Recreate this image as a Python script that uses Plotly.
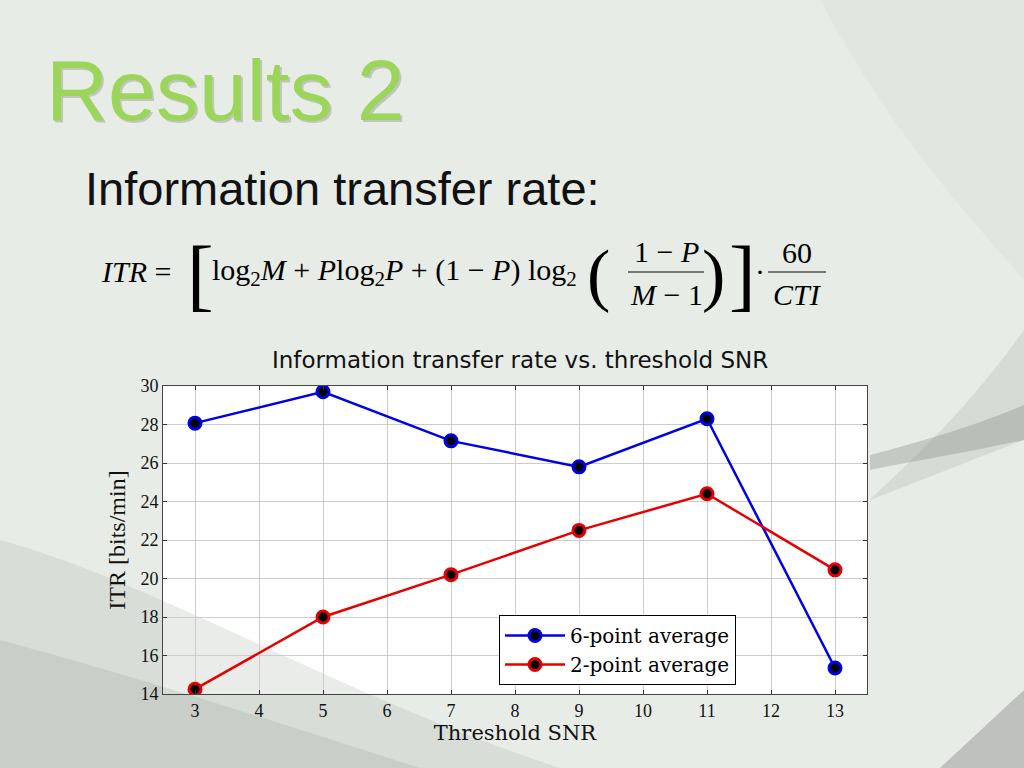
import plotly.graph_objects as go

snr = [3, 5, 7, 9, 11, 13]
itr_6pt = [28.07, 29.7, 27.15, 25.8, 28.3, 15.35]
itr_2pt = [14.25, 18.0, 20.2, 22.5, 24.4, 20.45]
x_ticks = [3, 4, 5, 6, 7, 8, 9, 10, 11, 12, 13]
y_ticks = [14, 16, 18, 20, 22, 24, 26, 28, 30]

SERIF = "Liberation Serif, Times New Roman, serif"
WSERIF = "DejaVu Serif, serif"
SANS = "Liberation Sans, Arial, sans-serif"

fig = go.Figure()
fig.add_trace(go.Scatter(
    x=snr, y=itr_6pt, mode="lines+markers", name="6-point average",
    line=dict(color="#0000e6", width=2.5),
    marker=dict(size=12, color="black", line=dict(color="#0000e6", width=3)),
))
fig.add_trace(go.Scatter(
    x=snr, y=itr_2pt, mode="lines+markers", name="2-point average",
    line=dict(color="#e60000", width=2.5),
    marker=dict(size=12, color="black", line=dict(color="#e60000", width=3)),
))

W, H = 1024, 768
L, R, T, B = 163, 867, 386, 694

def px(x):
    return (x - L) / (R - L)
def py(y):
    return (B - y) / (B - T)

# Background swooshes
shapes = [
    dict(type="path", xref="paper", yref="paper", layer="below",
         path=f"M {px(0)} {py(540)} C {px(150)} {py(580)}, {px(350)} {py(700)}, {px(560)} {py(768)} L {px(0)} {py(768)} Z",
         fillcolor="rgba(160,170,160,0.22)", line=dict(width=0)),
    dict(type="path", xref="paper", yref="paper", layer="below",
         path=f"M {px(0)} {py(640)} C {px(150)} {py(680)}, {px(300)} {py(730)}, {px(420)} {py(768)} L {px(0)} {py(768)} Z",
         fillcolor="rgba(150,155,150,0.22)", line=dict(width=0)),
    dict(type="path", xref="paper", yref="paper", layer="below",
         path=f"M {px(1024)} {py(330)} C {px(960)} {py(420)}, {px(900)} {py(470)}, {px(870)} {py(500)} L {px(1024)} {py(440)} Z",
         fillcolor="rgba(150,160,150,0.22)", line=dict(width=0)),
    dict(type="path", xref="paper", yref="paper", layer="below",
         path=f"M {px(870)} {py(455)} C {px(930)} {py(440)}, {px(990)} {py(420)}, {px(1024)} {py(405)} L {px(1024)} {py(440)} C {px(980)} {py(450)}, {px(920)} {py(460)}, {px(870)} {py(470)} Z",
         fillcolor="rgba(130,140,130,0.35)", line=dict(width=0)),
    dict(type="path", xref="paper", yref="paper", layer="below",
         path=f"M {px(1024)} {py(690)} L {px(1024)} {py(768)} L {px(940)} {py(768)} Z",
         fillcolor="rgba(150,150,150,0.5)", line=dict(width=0)),
    dict(type="path", xref="paper", yref="paper", layer="below",
         path=f"M {px(820)} {py(0)} C {px(900)} {py(150)}, {px(1000)} {py(250)}, {px(1024)} {py(280)} L {px(1024)} {py(0)} Z",
         fillcolor="rgba(210,218,210,0.3)", line=dict(width=0)),
    # fraction bars
    dict(type="line", xref="paper", yref="paper", x0=px(628), x1=px(704), y0=py(272), y1=py(272),
         line=dict(color="black", width=1.2)),
    dict(type="line", xref="paper", yref="paper", x0=px(768), x1=px(826), y0=py(272), y1=py(272),
         line=dict(color="black", width=1.2)),
]

def ann(text, x, y, size, family, color="black", xanchor="left"):
    return dict(text=text, x=px(x), y=py(y), xref="paper", yref="paper",
                xanchor=xanchor, yanchor="middle", showarrow=False, borderpad=0,
                font=dict(family=family, size=size, color=color))

annotations = [
    ann("Results 2", 47, 92, 86, SANS, "rgba(120,130,120,0.35)"),
    ann("Results 2", 45, 90, 86, SANS, "#9bd65a"),
    ann("Information transfer rate:", 84, 188, 47, SANS, "#111111"),
    ann("<i>ITR</i> =", 100, 271, 30, SERIF),
    ann("[", 186, 274, 80, SERIF),
    ann("log<sub>2</sub><i>M</i> + <i>P</i>log<sub>2</sub><i>P</i> + (1 − <i>P</i>) log<sub>2</sub>", 211, 272, 30, SERIF),
    ann("(", 586, 274, 70, SERIF),
    ann("1 − <i>P</i>", 666, 251, 30, SERIF, xanchor="center"),
    ann("<i>M</i> − 1", 666, 294, 30, SERIF, xanchor="center"),
    ann(")", 701, 274, 70, SERIF),
    ann("]", 728, 274, 80, SERIF),
    ann("·", 760, 271, 30, SERIF, xanchor="center"),
    ann("60", 797, 253, 30, SERIF, xanchor="center"),
    ann("<i>CTI</i>", 797, 294, 30, SERIF, xanchor="center"),
    ann("Information transfer rate vs. threshold SNR", 520, 360, 23,
        "DejaVu Sans, Verdana, sans-serif", "#111111", xanchor="center"),
]

fig.update_layout(
    width=W, height=H, autosize=False,
    margin=dict(l=L, r=W - R, t=T, b=H - B),
    paper_bgcolor="#e8ece7",
    plot_bgcolor="white",
    showlegend=True,
    legend=dict(
        x=px(499), y=py(615), xanchor="left", yanchor="top",
        bgcolor="white", bordercolor="black", borderwidth=1,
        font=dict(family=WSERIF, size=20, color="black"),
        itemwidth=60, tracegroupgap=0,
    ),
    xaxis=dict(
        range=[2.5, 13.5], tickvals=x_ticks, ticks="inside", ticklen=4,
        tickcolor="#333", showline=True, linecolor="#444", linewidth=1, mirror="ticks",
        showgrid=True, gridcolor="#cccccc", gridwidth=1, zeroline=False,
        tickfont=dict(family=SERIF, size=18, color="#111"),
        title=dict(text="Threshold SNR", font=dict(family=WSERIF, size=21, color="#111"), standoff=2),
    ),
    yaxis=dict(
        range=[14, 30], tickvals=y_ticks, ticks="inside", ticklen=4,
        tickcolor="#333", showline=True, linecolor="#444", linewidth=1, mirror="ticks",
        showgrid=True, gridcolor="#cccccc", gridwidth=1, zeroline=False,
        tickfont=dict(family=SERIF, size=18, color="#111"),
        title=dict(text="ITR [bits/min]", font=dict(family=SERIF, size=24, color="#111"), standoff=8),
    ),
    shapes=shapes,
    annotations=annotations,
)

fig.write_html("out.html", config={"displayModeBar": False},
               post_script="document.body.style.margin='0';")
